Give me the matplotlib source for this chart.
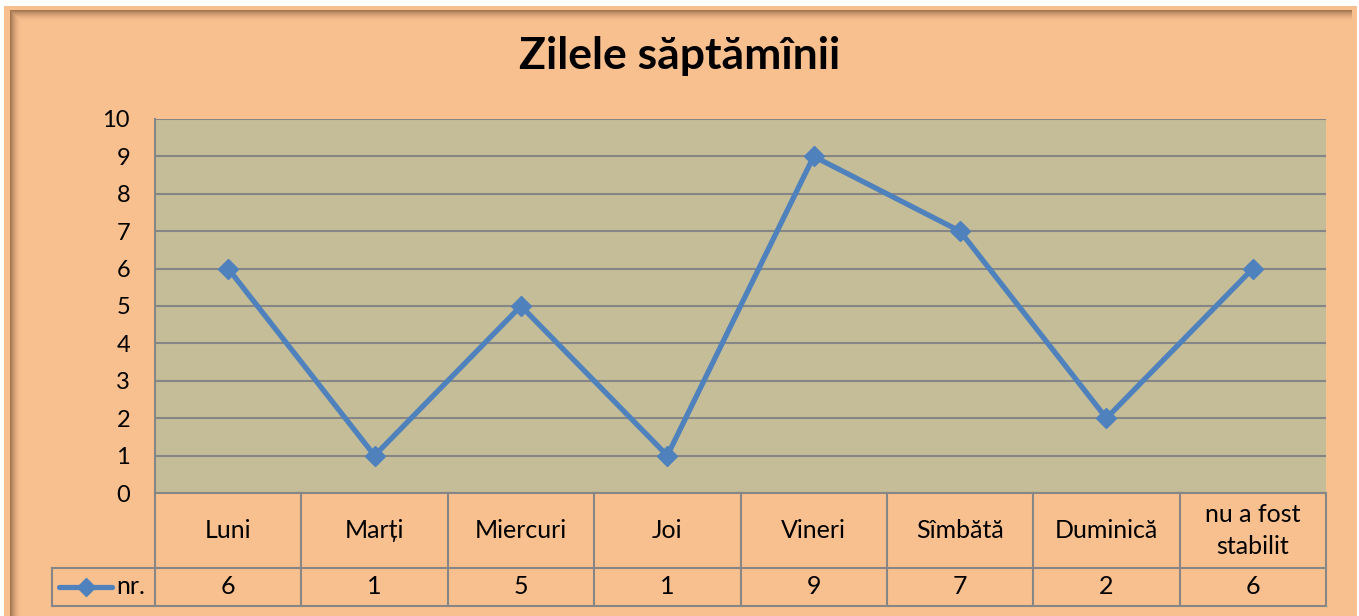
import matplotlib
matplotlib.use('Agg')
from matplotlib import pyplot as plt
from matplotlib.patches import Rectangle
from matplotlib.lines import Line2D

plt.rcParams['font.family'] = ['Lato', 'DejaVu Sans']

title = 'Zilele săptămînii'
categories = ['Luni', 'Marți', 'Miercuri', 'Joi', 'Vineri', 'Sîmbătă', 'Duminică', 'nu a fost\nstabilit']
values = [6, 1, 5, 1, 9, 7, 2, 6]
series_name = 'nr.'
y_ticks = list(range(0, 11))

W, H = 1359, 616
peach = '#F9C08F'
tan = '#C4BD97'
grid_col = '#868686'
blue = '#4F81BD'

fig = plt.figure(figsize=(W / 100, H / 100), dpi=100)
fig.patch.set_facecolor('white')


def fx(px):
    return px / W


def fy(py):
    return 1 - py / H


# chart background and inner shadow
fig.add_artist(Rectangle((fx(4), 0), fx(1357 - 4), fy(6), transform=fig.transFigure,
                         facecolor=peach, edgecolor='none', zorder=0))
for i in range(12):
    a = 0.55 * (1 - i / 12) ** 2
    fig.add_artist(Rectangle((fx(10 + i), 0), fx(1), fy(10 + i), transform=fig.transFigure,
                             facecolor='#5a3a20', alpha=a, edgecolor='none', zorder=0.5))
    fig.add_artist(Rectangle((fx(10 + i + 1), fy(11 + i)), fx(1352 - 11 - i), fy(10 + i) - fy(11 + i),
                             transform=fig.transFigure, facecolor='#5a3a20', alpha=a,
                             edgecolor='none', zorder=0.5))

x0, x1, ytop, ybot = 155, 1326, 119, 493
ax = fig.add_axes([fx(x0), fy(ybot), fx(x1 - x0), fy(ytop) - fy(ybot)])
ax.set_facecolor(tan)
xs = list(range(len(categories)))
ax.plot(xs, values, color=blue, lw=3.8, marker='D', ms=10, zorder=3, clip_on=False)
ax.set_xlim(-0.5, len(categories) - 0.5)
ax.set_ylim(0, 10)
ax.set_yticks(y_ticks)
ax.set_xticks([])
ax.tick_params(axis='y', length=0, pad=18, labelsize=17)
ax.yaxis.grid(True, color=grid_col, lw=1.5)
ax.set_axisbelow(True)
for s in ['right', 'top']:
    ax.spines[s].set_visible(False)
ax.spines['left'].set_color(grid_col)
ax.spines['left'].set_linewidth(1.5)
ax.spines['bottom'].set_color(grid_col)
ax.spines['bottom'].set_linewidth(1.5)

fig.text(fx(680), fy(56), title, ha='center', va='center', fontsize=32, fontweight='bold')

# data table under the axis
col_w = (x1 - x0) / len(categories)
y_mid, y_end, leg_x = 568, 606, 52
lkw = dict(transform=fig.transFigure, color=grid_col, lw=1.5)
fig.add_artist(Line2D([fx(x0), fx(x1)], [fy(y_mid)] * 2, **lkw))
fig.add_artist(Line2D([fx(leg_x), fx(x1)], [fy(y_end)] * 2, **lkw))
fig.add_artist(Line2D([fx(leg_x), fx(x0)], [fy(y_mid)] * 2, **lkw))
fig.add_artist(Line2D([fx(leg_x)] * 2, [fy(y_mid), fy(y_end)], **lkw))
for i in range(len(categories) + 1):
    fig.add_artist(Line2D([fx(x0 + i * col_w)] * 2, [fy(ybot), fy(y_end)], **lkw))
for i, (c, v) in enumerate(zip(categories, values)):
    cx = x0 + (i + 0.5) * col_w
    fig.text(fx(cx), fy((ybot + y_mid) / 2), c, ha='center', va='center', fontsize=18,
             linespacing=1.5)
    fig.text(fx(cx), fy((y_mid + y_end) / 2), str(v), ha='center', va='center', fontsize=18)

# legend key
ly = fy((y_mid + y_end) / 2)
fig.add_artist(Line2D([fx(59), fx(112)], [ly, ly], transform=fig.transFigure, color=blue,
                      lw=3.8, solid_capstyle='round'))
fig.add_artist(Line2D([fx(86)], [ly], transform=fig.transFigure, color=blue, marker='D', ms=9))
fig.text(fx(116), ly, series_name, ha='left', va='center', fontsize=18)

fig.savefig('out.png', dpi=100)
